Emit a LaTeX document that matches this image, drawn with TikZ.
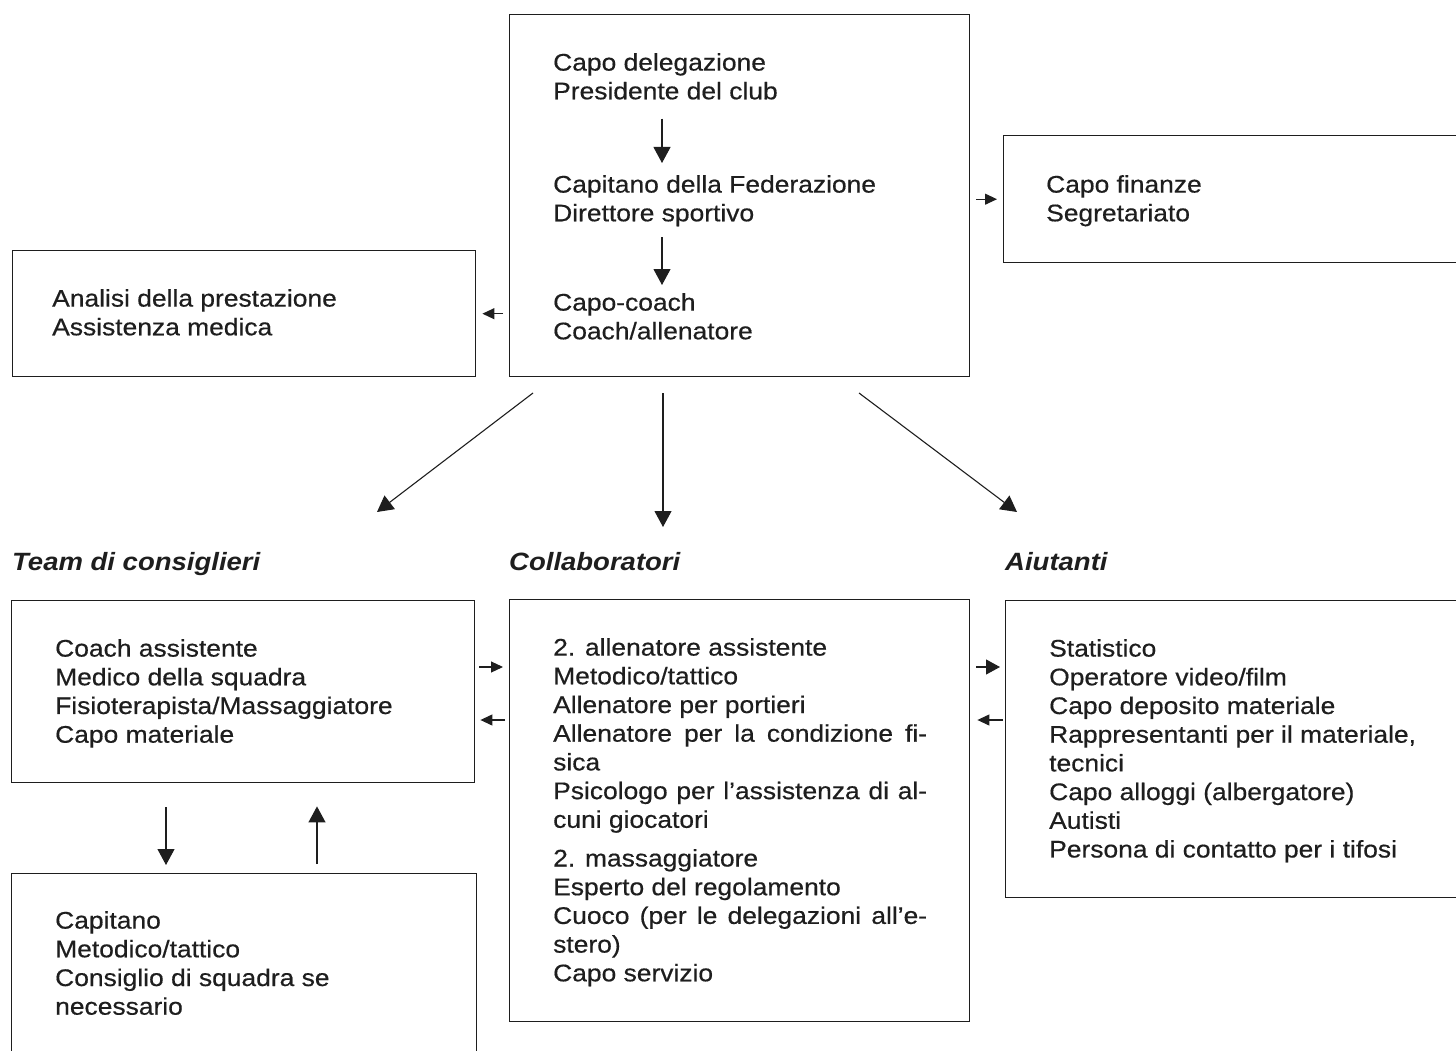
\documentclass[tikz,border=0pt]{standalone}
\usepackage{fontspec}
\setmainfont{Liberation Sans}[FakeStretch=1.1,UprightFeatures={FakeBold=0.5}]
\usepackage{tikz}
\usetikzlibrary{arrows.meta,positioning}
\definecolor{orgInk}{HTML}{1E1E1E}

\newcommand{\spreadline}[1]{\makebox[374pt][s]{#1}}

\begin{document}
\begin{tikzpicture}[
  x=1pt,y=-1pt,
  box/.style={draw=orgInk,line width=1.4pt,anchor=north west,inner sep=0pt},
  txt/.style={anchor=north west,align=left,inner sep=0pt,text=orgInk,
              font=\fontsize{24}{28.7}\selectfont},
  head/.style={anchor=north west,inner sep=0pt,text=orgInk,
               font=\fontsize{25}{29}\selectfont\bfseries\itshape},
  arr/.style={-{Triangle[length=16pt,width=17pt]},line width=1.1pt,draw=orgInk},
  marr/.style={-{Triangle[length=14pt,width=15pt]},line width=1.1pt,draw=orgInk},
  sarr/.style={-{Triangle[length=12pt,width=11pt]},line width=1.1pt,draw=orgInk}
]
\useasboundingbox (0,0) rectangle (1456,1051);
\clip (0,0) rectangle (1456,1051);

% boxes
\node[box,minimum width=460pt,minimum height=362pt] (top) at (509,14) {};
\node[box,minimum width=467pt,minimum height=127pt] (fin) at (1003,135) {};
\node[box,minimum width=463pt,minimum height=126pt] (ana) at (12,250) {};
\node[box,minimum width=463pt,minimum height=182pt] (team) at (11,600) {};
\node[box,minimum width=460pt,minimum height=422pt] (coll) at (509,599) {};
\node[box,minimum width=465pt,minimum height=297pt] (aiut) at (1005,600) {};
\node[box,minimum width=465pt,minimum height=200pt] (capt) at (11,873) {};

% texts
\node[txt] (t1) at (553,53) {Capo delegazione\\Presidente del club};
\node[txt] (t2) at (553,175) {Capitano della Federazione\\Direttore sportivo};
\node[txt] (t3) at (553,293) {Capo-coach\\Coach/allenatore};
\node[txt] (tfin) at (1046,175) {Capo finanze\\Segretariato};
\node[txt] (tana) at (52,289) {Analisi della prestazione\\Assistenza medica};

\node[head] (hteam) at (12,552) {Team di consiglieri};
\node[head] (hcoll) at (509,552) {Collaboratori};
\node[head] (haiut) at (1005,552) {Aiutanti};

\node[txt] (tteam) at (55,639) {Coach assistente\\Medico della squadra\\
  Fisioterapista/Massaggiatore\\Capo materiale};
\node[txt] (tcoll) at (553,638) {2. allenatore assistente\\Metodico/tattico\\
  Allenatore per portieri\\\spreadline{Allenatore per la condizione fi-}\\sica\\
  \spreadline{Psicologo per l’assistenza di al-}\\cuni giocatori\\[10pt]
  2. massaggiatore\\Esperto del regolamento\\
  \spreadline{Cuoco (per le delegazioni all’e-}\\stero)\\Capo servizio};
\node[txt] (taiut) at (1049,639) {Statistico\\Operatore video/film\\
  Capo deposito materiale\\Rappresentanti per il materiale,\\tecnici\\
  Capo alloggi (albergatore)\\Autisti\\Persona di contatto per i tifosi};
\node[txt] (tcapt) at (55,911) {Capitano\\Metodico/tattico\\
  Consiglio di squadra se\\necessario};

% helper coordinates
\coordinate (ax) at (662,0);
\coordinate (upper) at (0,667);
\coordinate (lower) at (0,720);
\coordinate (down) at (166,0);
\coordinate (up) at (317,0);
\coordinate (fromL) at (533,393);
\coordinate (fromM) at (663,393);
\coordinate (fromR) at (859,393);
\coordinate (toL) at (377,512);
\coordinate (toM) at (663,527);
\coordinate (toR) at (1017,512);

% arrows
\draw[arr,shorten <=19pt,shorten >=12pt] (t1.south -| ax) -- (t2.north -| ax);
\draw[arr,shorten <=11pt,shorten >=8pt] (t2.south -| ax) -- (t3.north -| ax);
\draw[sarr,shorten <=6pt,shorten >=6pt] (top.west |- ana.east) -- (ana.east);
\draw[sarr,shorten <=6pt,shorten >=6pt] (top.east |- fin.west) -- (fin.west);

\draw[arr] (fromL) -- (toL);
\draw[arr] (fromM) -- (toM);
\draw[arr] (fromR) -- (toR);

\draw[sarr,shorten <=4pt,shorten >=6pt] (team.east |- upper) -- (coll.west |- upper);
\draw[sarr,shorten <=4pt,shorten >=5pt] (coll.west |- lower) -- (team.east |- lower);
\draw[marr,shorten <=6pt,shorten >=5pt] (coll.east |- upper) -- (aiut.west |- upper);
\draw[sarr,shorten <=2pt,shorten >=7pt] (aiut.west |- lower) -- (coll.east |- lower);

\draw[arr,shorten <=24pt,shorten >=8pt] (team.south -| down) -- (capt.north -| down);
\draw[arr,shorten <=9pt,shorten >=23pt] (capt.north -| up) -- (team.south -| up);
\end{tikzpicture}
\end{document}
